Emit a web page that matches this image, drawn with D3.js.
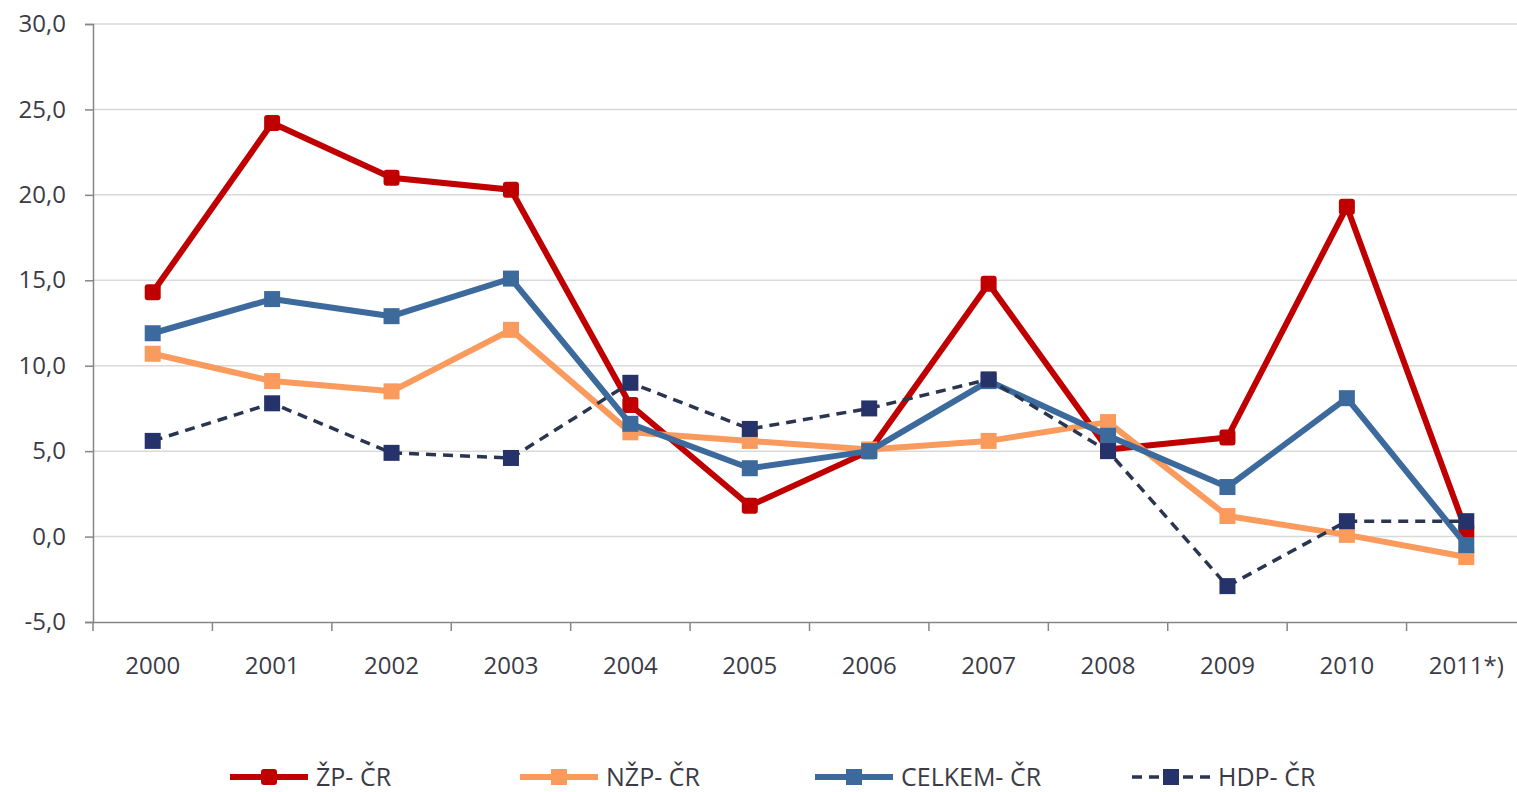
<!doctype html>
<html>
<head>
<meta charset="utf-8">
<script src="https://cdnjs.cloudflare.com/ajax/libs/d3/7.8.5/d3.min.js"></script>
<style>
  body { margin: 0; background: #fff; }
  svg { display: block; font-family: "Open Sans", sans-serif; }
  .tick text { fill: #3b3b46; font-size: 24px; font-family: "Open Sans", sans-serif; }
  .grid line { stroke: #d9d9d9; stroke-width: 1.5; }
  .legend text { fill: #3b3b46; font-size: 25px; }
</style>
</head>
<body>
<svg width="1517" height="792"></svg>
<script>
var years = ["2000", "2001", "2002", "2003", "2004", "2005", "2006", "2007", "2008", "2009", "2010", "2011*)"];
var zp     = [14.3, 24.2, 21.0, 20.3, 7.7, 1.8, 5.0, 14.8, 5.1, 5.8, 19.3, 0.3];
var nzp    = [10.7, 9.1, 8.5, 12.1, 6.1, 5.6, 5.1, 5.6, 6.7, 1.2, 0.1, -1.2];
var celkem = [11.9, 13.9, 12.9, 15.1, 6.6, 4.0, 5.0, 9.1, 5.9, 2.9, 8.1, -0.5];
var hdp    = [5.6, 7.8, 4.9, 4.6, 9.0, 6.3, 7.5, 9.2, 5.0, -2.9, 0.9, 0.9];
var yTicks = [-5, 0, 5, 10, 15, 20, 25, 30];

var series = [
  { name: "ŽP- ČR", values: zp, color: "#c00000", width: 6, dash: null, marker: "#c00000" },
  { name: "NŽP- ČR", values: nzp, color: "#fa9a5c", width: 6, dash: null, marker: "#fa9a5c" },
  { name: "CELKEM- ČR", values: celkem, color: "#3c6a9c", width: 6, dash: null, marker: "#3c6a9c" },
  { name: "HDP- ČR", values: hdp, color: "#2a3550", width: 3.5, dash: "10,7", marker: "#26326a" }
];

var svg = d3.select("svg");
var plotLeft = 93, plotRight = 1526, plotTop = 24, plotBottom = 622;

var x = d3.scaleBand().domain(years).range([plotLeft, plotRight]);
var y = d3.scaleLinear().domain([-5, 30]).range([plotBottom, plotTop]);

// grid
svg.append("g").attr("class", "grid")
  .selectAll("line").data(yTicks.filter(function (d) { return d > -5; }))
  .enter().append("line")
  .attr("x1", plotLeft).attr("x2", 1517)
  .attr("y1", function (d) { return y(d); })
  .attr("y2", function (d) { return y(d); });

var fmt = function (d) { return d3.format(".1f")(d).replace(".", ",").replace("−", "-"); };

var yAxis = svg.append("g")
  .attr("transform", "translate(" + plotLeft + ",0)")
  .call(d3.axisLeft(y).tickValues(yTicks).tickFormat(fmt).tickSize(8).tickPadding(19));
yAxis.select(".domain").attr("stroke", "#868686").attr("stroke-width", 1.5);
yAxis.selectAll(".tick line").attr("stroke", "#868686").attr("stroke-width", 1.5);

var xAxis = svg.append("g")
  .attr("transform", "translate(0," + plotBottom + ")")
  .call(d3.axisBottom(x).tickSize(0).tickPadding(35));
xAxis.select(".domain").attr("stroke", "#868686").attr("stroke-width", 1.5);

// tick marks between categories
xAxis.selectAll("line.sep").data(d3.range(years.length + 1))
  .enter().append("line").attr("class", "sep")
  .attr("x1", function (i) { return plotLeft + i * x.step(); })
  .attr("x2", function (i) { return plotLeft + i * x.step(); })
  .attr("y1", 0).attr("y2", 9)
  .attr("stroke", "#868686").attr("stroke-width", 1.5);

var cx = function (d, i) { return x(years[i]) + x.bandwidth() / 2; };

var line = d3.line()
  .x(function (d, i) { return cx(d, i); })
  .y(function (d) { return y(d); });

var ms = 16;
series.forEach(function (s) {
  var g = svg.append("g");
  g.append("path")
    .attr("d", line(s.values))
    .attr("fill", "none")
    .attr("stroke", s.color)
    .attr("stroke-width", s.width)
    .attr("stroke-linejoin", "round")
    .attr("stroke-dasharray", s.dash);
  g.selectAll("rect").data(s.values).enter().append("rect")
    .attr("x", function (d, i) { return cx(d, i) - ms / 2; })
    .attr("y", function (d) { return y(d) - ms / 2; })
    .attr("width", ms).attr("height", ms)
    .attr("rx", s.name === "ŽP- ČR" ? 3 : 0)
    .attr("fill", s.marker);
});

// legend
var legendX = [230, 520, 815, 1132];
var legend = svg.append("g").attr("class", "legend");
series.forEach(function (s, i) {
  var lg = legend.append("g").attr("transform", "translate(" + legendX[i] + ",777)");
  lg.append("line").attr("x1", 0).attr("x2", 78).attr("y1", 0).attr("y2", 0)
    .attr("stroke", s.color).attr("stroke-width", s.width)
    .attr("stroke-dasharray", s.dash);
  lg.append("rect").attr("x", 31).attr("y", -8).attr("width", 16).attr("height", 16)
    .attr("rx", i === 0 ? 3 : 0)
    .attr("fill", s.marker);
  lg.append("text").attr("x", 86).attr("y", 9).text(s.name);
});
</script>
</body>
</html>
